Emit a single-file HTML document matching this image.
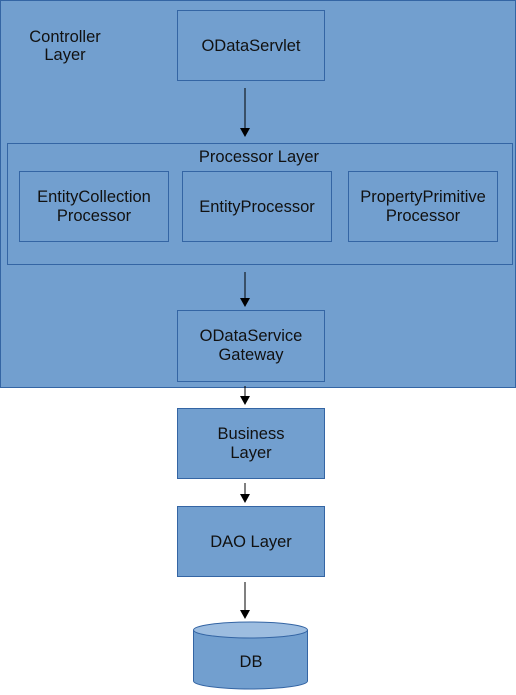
<!DOCTYPE html>
<html><head><style>html,body{margin:0;padding:0;background:#fff}</style></head><body>
<svg width="516" height="690" xmlns="http://www.w3.org/2000/svg" font-family="Liberation Sans, sans-serif" font-size="16.5" fill="#111">
<defs><marker id="a" markerWidth="10" markerHeight="10" refX="8" refY="5" orient="auto" markerUnits="userSpaceOnUse"><path d="M0,0 L9,5 L0,10 z" fill="#000"/></marker></defs>
<g fill="#729fcf" stroke="#3465a4" stroke-width="1">
<rect x="0.5" y="0.5" width="515" height="387"/>
<rect x="177.5" y="10.5" width="147" height="70"/>
<rect x="7.5" y="143.5" width="505" height="121"/>
<rect x="19.5" y="171.5" width="149" height="70"/>
<rect x="182.5" y="171.5" width="149" height="70"/>
<rect x="348.5" y="171.5" width="149" height="70"/>
<rect x="177.5" y="310.5" width="147" height="71"/>
<rect x="177.5" y="408.5" width="147" height="70"/>
<rect x="177.5" y="506.5" width="147" height="70"/>
<path d="M193.5,630 L193.5,681 A57,8 0 0 0 307.5,681 L307.5,630"/>
<ellipse cx="250.5" cy="630" rx="57" ry="8" fill="#9dbde0"/>
</g>
<g stroke="#000" stroke-width="1" marker-end="url(#a)">
<line x1="245" y1="88" x2="245" y2="136"/>
<line x1="245" y1="272" x2="245" y2="306"/>
<line x1="245" y1="386" x2="245" y2="404"/>
<line x1="245" y1="483" x2="245" y2="502"/>
<line x1="245" y1="582" x2="245" y2="618"/>
</g>
<g text-anchor="middle">
<text x="65" y="42">Controller</text><text x="65" y="60">Layer</text>
<text x="251" y="51">ODataServlet</text>
<text x="259" y="162">Processor Layer</text>
<text x="94" y="202">EntityCollection</text><text x="94" y="221">Processor</text>
<text x="257" y="212">EntityProcessor</text>
<text x="423" y="202">PropertyPrimitive</text><text x="423" y="221">Processor</text>
<text x="251" y="341">ODataService</text><text x="251" y="360">Gateway</text>
<text x="251" y="439">Business</text><text x="251" y="458">Layer</text>
<text x="251" y="547">DAO Layer</text>
<text x="251" y="667">DB</text>
</g>
</svg>
</body></html>
